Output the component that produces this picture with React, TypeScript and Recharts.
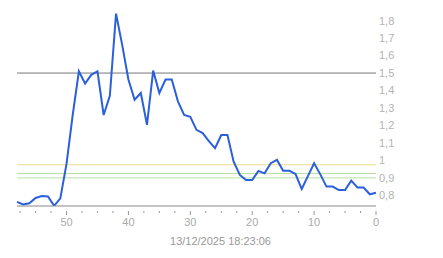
import React from 'react';
import { LineChart, Line, XAxis, YAxis, ReferenceLine } from 'recharts';

const minutesAgo = [
  0, 1, 2, 3, 4, 5, 6, 7, 8, 9, 10, 11, 12, 13, 14, 15, 16, 17, 18, 19, 20,
  21, 22, 23, 24, 25, 26, 27, 28, 29, 30, 31, 32, 33, 34, 35, 36, 37, 38, 39, 40,
  41, 42, 43, 44, 45, 46, 47, 48, 49, 50, 51, 52, 53, 54, 55, 56, 57, 58,
];
const values = [
  0.815, 0.806, 0.845, 0.845, 0.884, 0.83, 0.83, 0.85, 0.85, 0.92, 0.984,
  0.91, 0.836, 0.922, 0.941, 0.941, 1.003, 0.984, 0.926, 0.94, 0.888,
  0.888, 0.917, 0.993, 1.145, 1.145, 1.07, 1.11, 1.156, 1.175, 1.25,
  1.26, 1.338, 1.463, 1.463, 1.386, 1.514, 1.204, 1.386, 1.347, 1.463,
  1.66, 1.84, 1.37, 1.26, 1.51, 1.49, 1.44, 1.51, 1.26, 0.98,
  0.783, 0.74, 0.793, 0.796, 0.785, 0.755, 0.748, 0.763,
];
const xTicks = [
  0, 2.5, 5, 7.5, 10, 12.5, 15, 17.5, 20, 22.5, 25, 27.5, 30, 32.5, 35, 37.5,
  40, 42.5, 45, 47.5, 50, 52.5, 55, 57.5,
];
const yTicks = [0.8, 0.9, 1.0, 1.1, 1.2, 1.3, 1.4, 1.5, 1.6, 1.7, 1.8];
const thresholdMain = 1.5;
const thresholdYellow = 0.975;
const thresholdGreenHigh = 0.925;
const thresholdGreenLow = 0.9;
const timestampLabel = '13/12/2025 18:23:06';

const data = minutesAgo.map((m, i) => ({ m, v: values[i] }));

const fmtY = (v: number) => {
  const r = Math.round(v * 10) / 10;
  return String(r).replace('.', ',');
};

const XTick = (props: any) => {
  const { x, y, payload } = props;
  const val = payload.value as number;
  const major = Math.abs(val % 10) < 1e-9;
  return (
    <g>
      <line x1={x} x2={x} y1={y + 5} y2={y + (major ? 9 : 7)} stroke="#999" strokeWidth={1} />
      {major && (
        <text x={x} y={y + 20} textAnchor="middle" fill="#aaa" fontSize={11}>
          {String(val)}
        </text>
      )}
    </g>
  );
};

export default function App() {
  return (
    <div
      style={{
        position: 'absolute',
        left: 0,
        top: 0,
        width: 443,
        height: 258,
        background: '#fff',
        fontFamily: '"Liberation Sans", Arial, sans-serif',
      }}
    >
      <LineChart
        width={443}
        height={258}
        data={data}
        margin={{ top: 10, right: 0, bottom: 0, left: 17 }}
      >
        <XAxis
          dataKey="m"
          type="number"
          domain={[0, 58]}
          reversed
          ticks={xTicks}
          interval={0}
          height={52}
          tickSize={0}
          tickMargin={0}
          tickLine={false}
          axisLine={{ stroke: '#888', strokeWidth: 1 }}
          tick={<XTick />}
          label={{
            value: timestampLabel,
            position: 'insideBottom',
            offset: 13,
            dx: 24,
            fill: '#999',
            fontSize: 11,
          }}
        />
        <YAxis
          orientation="right"
          type="number"
          domain={[0.739, 1.861]}
          allowDataOverflow
          ticks={yTicks}
          interval={0}
          width={67}
          tickSize={0}
          tickMargin={3}
          tickLine={false}
          axisLine={false}
          tickFormatter={fmtY}
          tick={{ fill: '#b3b3b3', fontSize: 11 }}
        />
        <ReferenceLine y={thresholdYellow} stroke="#ecdc8c" strokeWidth={1} />
        <ReferenceLine y={thresholdGreenHigh} stroke="#b8e0a8" strokeWidth={1} />
        <ReferenceLine y={thresholdGreenLow} stroke="#b8e0a8" strokeWidth={1} />
        <ReferenceLine y={thresholdMain} stroke="#777" strokeWidth={1} />
        <Line
          type="linear"
          dataKey="v"
          stroke="#2b5fdb"
          strokeWidth={2}
          dot={false}
          isAnimationActive={false}
        />
      </LineChart>
    </div>
  );
}
